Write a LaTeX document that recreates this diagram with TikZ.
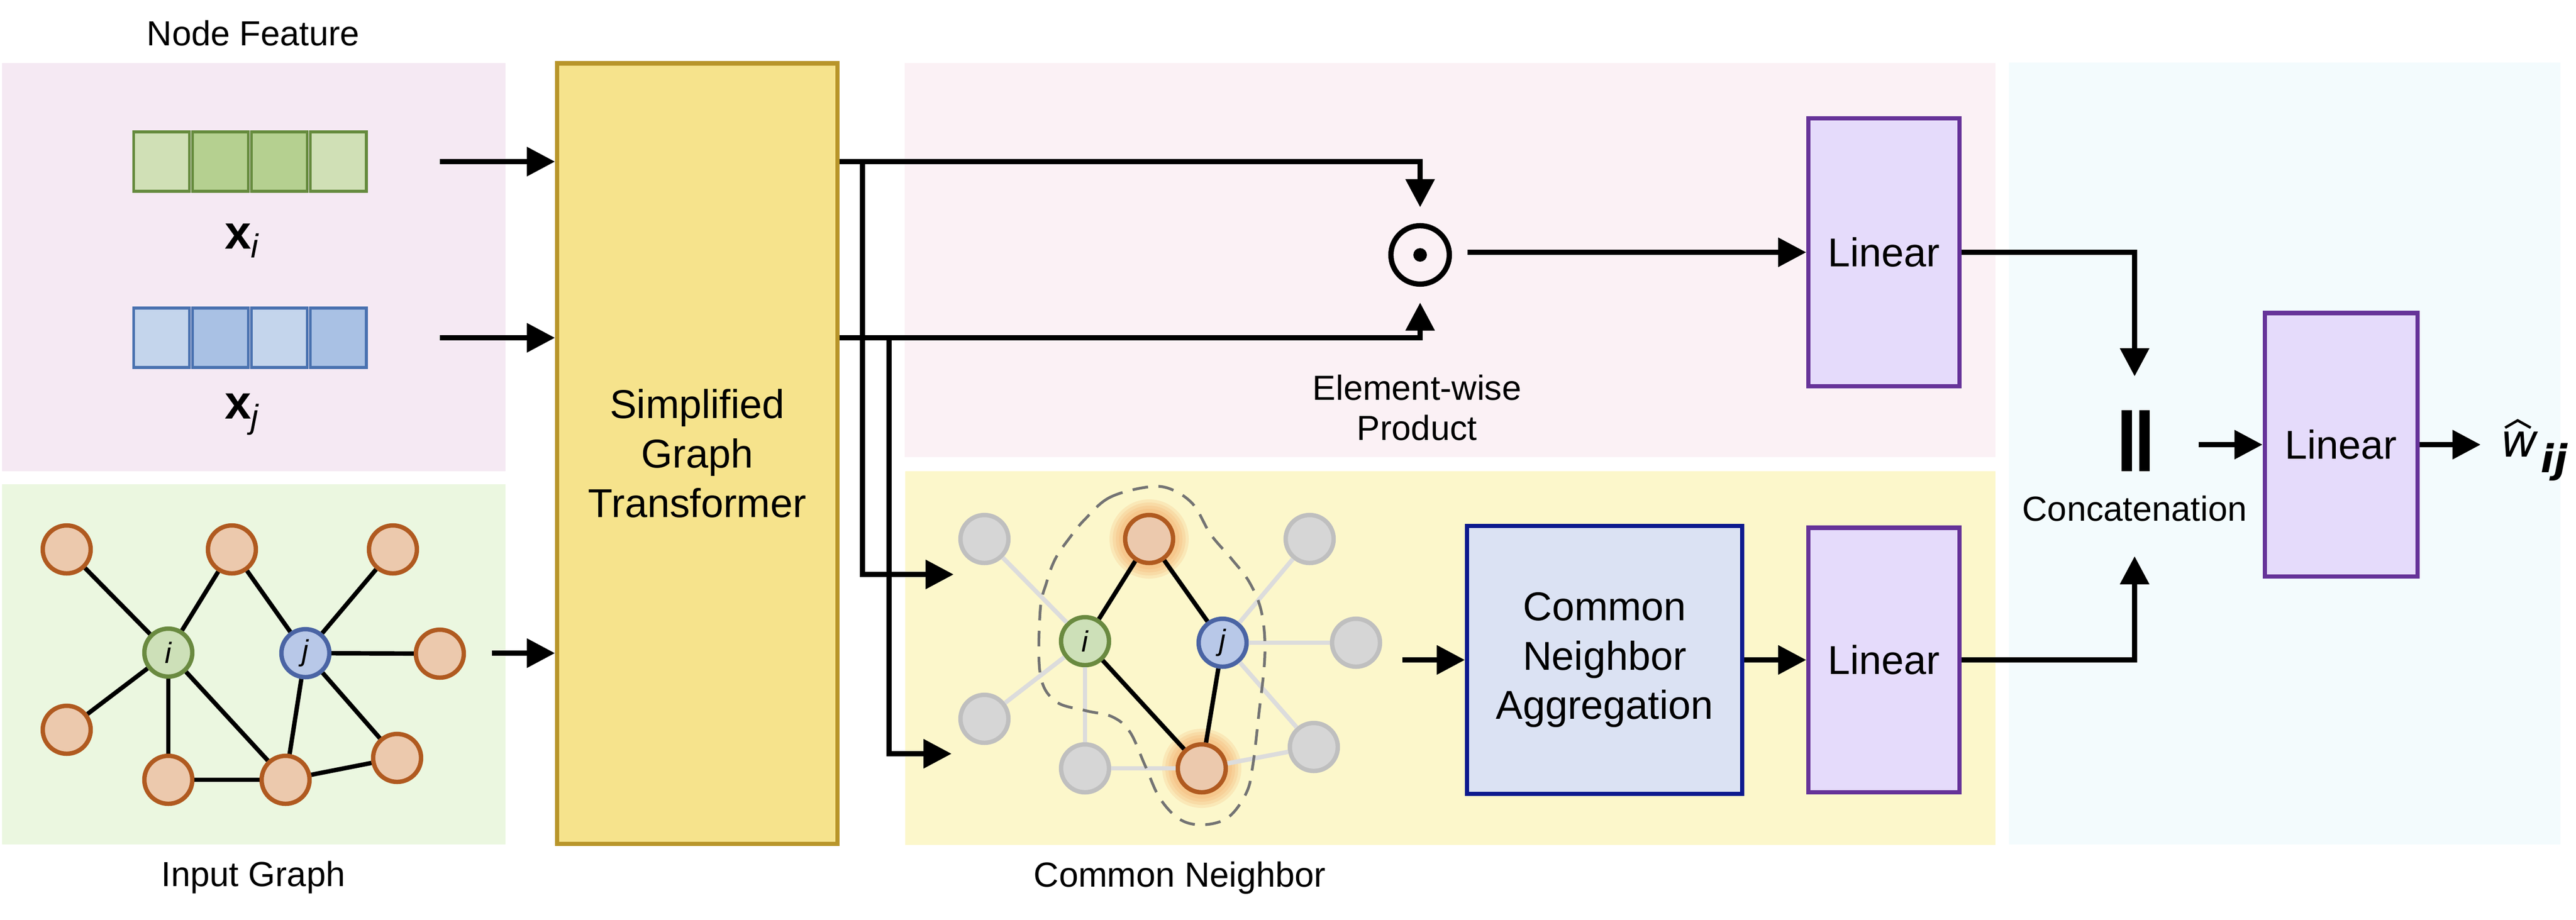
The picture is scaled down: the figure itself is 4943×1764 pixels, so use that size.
\documentclass[tikz,border=0pt]{standalone}
\usepackage{fontspec}
\setmainfont{Liberation Sans}
\newfontfamily\dejavu{DejaVu Sans}
\usetikzlibrary{arrows.meta}

\definecolor{bgpink}{HTML}{F5E9F3}
\definecolor{bggreen}{HTML}{EBF7E0}
\definecolor{bgrose}{HTML}{FBF1F5}
\definecolor{bgyellow}{HTML}{FCF7CB}
\definecolor{bgblue}{HTML}{F3FBFD}
\definecolor{sgtfill}{HTML}{F6E38C}
\definecolor{sgtdraw}{HTML}{B8952A}
\definecolor{vgreen}{HTML}{668B3E}
\definecolor{vgreenA}{HTML}{D0E0B6}
\definecolor{vgreenB}{HTML}{B5D090}
\definecolor{vblue}{HTML}{4A72B0}
\definecolor{vblueA}{HTML}{C4D5EC}
\definecolor{vblueB}{HTML}{A9C1E4}
\definecolor{nodeora}{HTML}{B05A20}
\definecolor{fillora}{HTML}{ECC9AD}
\definecolor{nodegray}{HTML}{BFBFBF}
\definecolor{fillgray}{HTML}{D6D6D6}
\definecolor{edgegray}{HTML}{DCDCDC}
\definecolor{nodei}{HTML}{6A8A40}
\definecolor{filli}{HTML}{CDE0B8}
\definecolor{nodej}{HTML}{4A64A4}
\definecolor{fillj}{HTML}{B8C8E8}
\definecolor{lindraw}{HTML}{663399}
\definecolor{linfill}{HTML}{E5DBFB}
\definecolor{cnadraw}{HTML}{0D1A8E}
\definecolor{cnafill}{HTML}{DBE2F3}
\definecolor{glow}{HTML}{F29A50}

\begin{document}
\begin{tikzpicture}[x=0.05mm,y=-0.05mm,>={Triangle[length=2.7mm,width=2.7mm]},
	flow/.style={line width=1.5pt,->},
	cell/.style={draw=#1,line width=0.85pt,minimum width=5.35mm,minimum height=5.7mm,inner sep=0pt},
	gnode/.style={circle,draw=#1,line width=1.2pt,minimum size=4.6mm,inner sep=0pt,font=\fontsize{8}{9}\selectfont\itshape},
	block/.style={draw=#1,line width=1.15pt,inner sep=0pt,align=center,font=\fontsize{11}{13.5}\selectfont},
	caption/.style={font=\fontsize{9.5}{11}\selectfont,align=center},
	link/.style={line width=1.2pt},
	fadelink/.style={line width=1.2pt,edgegray}]
	\useasboundingbox (0,0) rectangle (4943,1764);
	
	% Draw the background panels
	\fill[bgpink] (4,121) rectangle (970,904);
	\fill[bggreen] (4,929) rectangle (970,1620);
	\fill[bgrose] (1736,121) rectangle (3829,877);
	\fill[bgyellow] (1737,904) rectangle (3829,1621);
	\fill[bgblue] (3855,120) rectangle (4913,1620);
	
	% Node features
	\node[caption] (nf) at (486,64) {Node Feature};
	\foreach \k/\c in {1/vgreenA,2/vgreenB,3/vgreenB,4/vgreenA}
		\node[cell=vgreen,fill=\c] (xi\k) at (197+113*\k,310) {};
	\foreach \k/\c in {1/vblueA,2/vblueB,3/vblueA,4/vblueB}
		\node[cell=vblue,fill=\c] (xj\k) at (197+113*\k,648) {};
	\node (lxi) at (466,462) {\fontsize{13}{15}\selectfont\textbf{x}\textsubscript{\textit{i}}};
	\node (lxj) at (466,795) {\fontsize{13}{15}\selectfont\textbf{x}\textsubscript{\textit{j}}};
	
	% Input graph
	\node[gnode=nodeora,fill=fillora] (a1) at (128,1054) {};
	\node[gnode=nodeora,fill=fillora] (a2) at (445,1054) {};
	\node[gnode=nodeora,fill=fillora] (a3) at (754,1054) {};
	\node[gnode=nodei,fill=filli] (gi) at (323,1252) {i};
	\node[gnode=nodej,fill=fillj] (gj) at (586,1253) {j};
	\node[gnode=nodeora,fill=fillora] (a4) at (844,1254) {};
	\node[gnode=nodeora,fill=fillora] (a5) at (128,1400) {};
	\node[gnode=nodeora,fill=fillora] (a6) at (323,1496) {};
	\node[gnode=nodeora,fill=fillora] (a7) at (548,1496) {};
	\node[gnode=nodeora,fill=fillora] (a8) at (762,1454) {};
	\foreach \u/\v in {a1/gi,a2/gi,a2/gj,a3/gj,gj/a4,gi/a5,gi/a6,gi/a7,gj/a7,gj/a8,a6/a7,a7/a8}
		\draw[link] (\u) -- (\v);
	\node[caption] (ig) at (486,1683) {Input Graph};
	
	% Simplified graph transformer
	\node[block=sgtdraw,fill=sgtfill,minimum width=26.9mm,minimum height=74.85mm] (sgt) at (1338,870) {Simplified\\Graph\\Transformer};
	\coordinate (ini) at (844,310);
	\coordinate (inj) at (844,648);
	\coordinate (ing) at (944,1253);
	\draw[flow] (ini) -- (ini -| sgt.west);
	\draw[flow] (inj) -- (inj -| sgt.west);
	\draw[flow] (ing) -- (ing -| sgt.west);
	
	% Element-wise product
	\node[circle,minimum size=9mm,inner sep=0pt] (prod) at (2725,489) {};
	\draw[line width=1.45pt] (prod.center) circle (2.8mm);
	\fill (prod.center) circle (0.65mm);
	\node[caption] (ep) at (2719,782) {Element-wise\\Product};
	\draw[flow] (sgt.east |- ini) -| (prod.north);
	\draw[flow] (sgt.east |- inj) -| (prod.south);
	
	% Branches to the common neighbor part
	\coordinate (b1) at (1655,310);
	\coordinate (b2) at (1706,648);
	\coordinate (cn1) at (1830,1102);
	\coordinate (cn2) at (1826,1446);
	\draw[flow] (b1) |- (cn1);
	\draw[flow] (b2) |- (cn2);
	
	% Common neighbor graph
	\coordinate (cA) at (2205,1034);
	\coordinate (cB) at (2306,1474);
	\foreach \p in {cA,cB}
		\foreach \r in {3.8,3.5,3.2,2.9}
			\fill[glow,opacity=0.16] (\p) circle (\r mm);
	\node[gnode=nodegray,fill=fillgray] (c1) at (1889,1034) {};
	\node[gnode=nodeora,fill=fillora] (ct) at (cA) {};
	\node[gnode=nodegray,fill=fillgray] (c3) at (2513,1034) {};
	\node[gnode=nodei,fill=filli] (ci) at (2082,1230) {i};
	\node[gnode=nodej,fill=fillj] (cj) at (2346,1233) {j};
	\node[gnode=nodegray,fill=fillgray] (c4) at (2602,1233) {};
	\node[gnode=nodegray,fill=fillgray] (c5) at (1889,1379) {};
	\node[gnode=nodegray,fill=fillgray] (c6) at (2082,1474) {};
	\node[gnode=nodeora,fill=fillora] (cb) at (cB) {};
	\node[gnode=nodegray,fill=fillgray] (c8) at (2521,1433) {};
	\foreach \u/\v in {c1/ci,ci/c5,ci/c6,c6/cb,cb/c8,cj/c3,cj/c4,cj/c8}
		\draw[fadelink] (\u) -- (\v);
	\foreach \u/\v in {ct/ci,ct/cj,ci/cb,cj/cb}
		\draw[link] (\u) -- (\v);
	\draw[line width=0.75pt,black!55,dash pattern=on 1.5mm off 1mm] plot[smooth cycle,tension=0.6] coordinates {(2197,935) (2128,955) (2082,996) (2053,1031) (2025,1072) (2008,1118) (1996,1171) (1996,1293) (2025,1345) (2082,1363) (2134,1375) (2168,1404) (2197,1468) (2226,1532) (2266,1573) (2312,1582) (2358,1567) (2392,1520) (2404,1468) (2415,1375) (2427,1258) (2421,1176) (2398,1118) (2363,1072) (2323,1025) (2289,967) (2243,937)};
	\node[caption] (cnl) at (2264,1684) {Common Neighbor};
	
	% Common neighbor aggregation and linear layers
	\node[block=cnadraw,fill=cnafill,minimum width=26.4mm,minimum height=25.7mm] (cna) at (3079,1266) {Common\\Neighbor\\Aggregation};
	\coordinate (cnin) at (2691,1266);
	\draw[flow] (cnin) -- (cna);
	\node[block=lindraw,fill=linfill,minimum width=14.5mm,minimum height=25.7mm] (lin1) at (3615,484) {Linear};
	\node[block=lindraw,fill=linfill,minimum width=14.5mm,minimum height=25.35mm] (lin2) at (3615,1266) {Linear};
	\draw[flow] (prod.east |- lin1) -- (lin1);
	\draw[flow] (cna) -- (lin2);
	
	% Concatenation
	\node[minimum width=2.55mm,minimum height=5.85mm,inner sep=0pt] (cat) at (4098,847) {};
	\fill (cat.north west) rectangle ++(1mm,-5.85mm);
	\fill (cat.north east) rectangle ++(-1mm,-5.85mm);
	\node[caption] (catlbl) at (4096,976) {Concatenation};
	\coordinate (catup) at (4096,722);
	\coordinate (catdn) at (4096,1067);
	\draw[flow] (lin1) -| (catup);
	\draw[flow] (lin2) -| (catdn);
	
	% Final linear layer and output
	\node[block=lindraw,fill=linfill,minimum width=14.65mm,minimum height=25.25mm] (lin3) at (4492,853) {Linear};
	\coordinate (catout) at (4219,853);
	\coordinate (wout) at (4760,853);
	\draw[flow] (catout) -- (lin3);
	\draw[flow] (lin3) -- (wout);
	\node[anchor=base,inner sep=0pt,font=\dejavu\itshape\fontsize{12.5}{14}\selectfont] (what) at (4834,876) {w};
	\node[anchor=base west,inner sep=0pt,font=\dejavu\bfseries\itshape\fontsize{10.5}{12}\selectfont] (wij) at ([shift={(0.15mm,-1.5mm)}]what.base east) {ij};
	\draw[line width=0.7pt] ([shift={(-1.35mm,0.3mm)}]what.north) -- ([shift={(-0.15mm,1.0mm)}]what.north) -- ([shift={(1.1mm,0.3mm)}]what.north);
	
\end{tikzpicture}
\end{document}
